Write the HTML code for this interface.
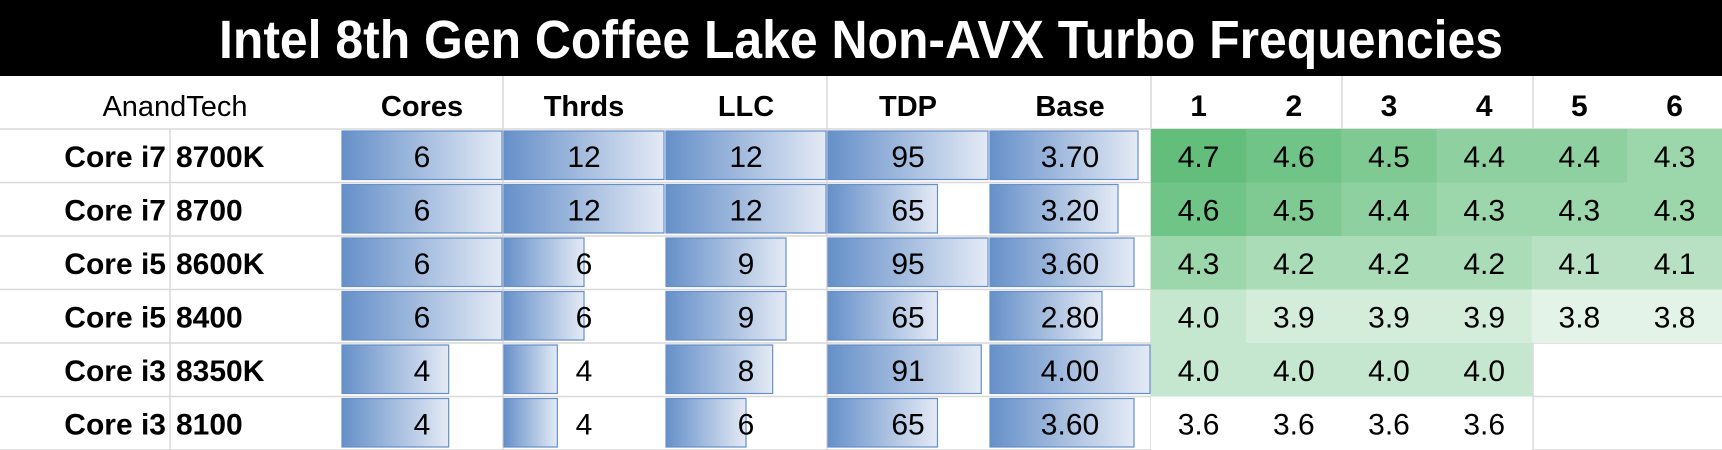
<!DOCTYPE html>
<html><head><meta charset="utf-8"><style>
html,body{margin:0;padding:0;background:#fff;}
svg{display:block;font-family:"Liberation Sans",sans-serif;}
</style></head><body>
<svg id="chart" width="1722" height="450" viewBox="0 0 1722 450" xmlns="http://www.w3.org/2000/svg">
<defs>
<linearGradient id="bg" x1="0" x2="1" y1="0" y2="0">
<stop offset="0" stop-color="#6690c9"/><stop offset="1" stop-color="#e4eaf5"/>
</linearGradient>
</defs>
<rect x="0" y="0" width="1722" height="76" fill="#000"/>
<text x="861" y="58" text-anchor="middle" fill="#fff" font-size="54" font-weight="bold" textLength="1284" lengthAdjust="spacingAndGlyphs">Intel 8th Gen Coffee Lake Non-AVX Turbo Frequencies</text>
<g id="grid"></g>
<g id="cells"></g>
</svg>
<script>
const cpuFamily = ["Core i7","Core i7","Core i5","Core i5","Core i3","Core i3"];
const cpuModel = ["8700K","8700","8600K","8400","8350K","8100"];
const cores = [6,6,6,6,4,4];
const threads = [12,12,6,6,4,4];
const llc = [12,12,9,9,8,6];
const tdp = [95,65,95,65,91,65];
const base = ["3.70","3.20","3.60","2.80","4.00","3.60"];
const turboHeaders = ["1","2","3","4","5","6"];
const turbo = [
 [4.7,4.6,4.5,4.4,4.4,4.3],
 [4.6,4.5,4.4,4.3,4.3,4.3],
 [4.3,4.2,4.2,4.2,4.1,4.1],
 [4.0,3.9,3.9,3.9,3.8,3.8],
 [4.0,4.0,4.0,4.0,null,null],
 [3.6,3.6,3.6,3.6,null,null]
];
const barHeaders = ["Cores","Thrds","LLC","TDP","Base"];

const svg = document.getElementById('chart');
const grid = document.getElementById('grid');
const cells = document.getElementById('cells');
const NS = "http://www.w3.org/2000/svg";
function mk(tag, attrs, parent, text){
  const e = document.createElementNS(NS, tag);
  for (const k in attrs) e.setAttribute(k, attrs[k]);
  if (text !== undefined) e.textContent = text;
  parent.appendChild(e);
  return e;
}
const headerTop = 76, rowTop = 129, rowH = 53.5;
const rowY = i => rowTop + i*rowH;
const barX = [342, 504, 666, 828, 990];
const barW = 160;
const turboX0 = 1151, turboW = 95.2;
const turboX = j => turboX0 + j*turboW;

// gridlines
for (let i=0;i<=6;i++){
  const l = mk('line',{x1:0,x2:1722,y1:rowY(i),y2:rowY(i),stroke:'#d9d9d9','stroke-width':1.5},grid);
  
  
}
[[170,rowTop,450],[503,headerTop,450],[827,headerTop,450],[1151,headerTop,450],[1342,headerTop,rowTop],[1533,headerTop,450]].forEach(v=>{
  const l = mk('line',{x1:v[0],x2:v[0],y1:v[1],y2:v[2],stroke:'#d9d9d9','stroke-width':1.5},grid);
  
  
});

// headers
let t = mk('text',{x:175,y:116,'text-anchor':'middle','font-size':29,fill:'#000'},cells,'AnandTech');


barHeaders.forEach((h,k)=>{
  const e = mk('text',{x:barX[k]+barW/2,y:116,'text-anchor':'middle','font-size':29,'font-weight':'bold'},cells,h);
  
  
});
turboHeaders.forEach((h,j)=>{
  const e = mk('text',{x:turboX(j)+turboW/2,y:116,'text-anchor':'middle','font-size':30,'font-weight':'bold'},cells,h);
  
  
});

// colour scale
function green(v){
  const tt = Math.max(0, Math.min(1,(v-3.6)/(4.7-3.6)));
  const c0=[255,255,255], c1=[99,190,123];
  return 'rgb('+c0.map((c,i)=>Math.round(c+(c1[i]-c)*tt)).join(',')+')';
}

const barCols = [cores, threads, llc, tdp, base.map(Number)];
const barLabels = [cores, threads, llc, tdp, base];
for (let i=0;i<6;i++){
  const y = rowY(i);
  const cy = y + rowH/2 + 11;
  let a = mk('text',{x:166,y:cy,'text-anchor':'end','font-size':30,'font-weight':'bold'},cells,cpuFamily[i]);
  
  
  let b = mk('text',{x:176,y:cy,'font-size':30,'font-weight':'bold'},cells,cpuModel[i]);
  
  
  barCols.forEach((col,k)=>{
    const mx = Math.max(...col);
    const w = (col[i]/mx)*barW;
    const r = mk('rect',{x:barX[k],y:y+2,width:w,height:rowH-5,fill:'url(#bg)',stroke:'#6690c9','stroke-width':1.2},cells);
    
    
    const tx = mk('text',{x:barX[k]+barW/2,y:cy,'text-anchor':'middle','font-size':30},cells,String(barLabels[k][i]));
    
    
  });
  turbo[i].forEach((v,j)=>{
    if (v===null) return;
    const r = mk('rect',{x:turboX(j),y:y,width:turboW+0.5,height:rowH,fill:green(v)},cells);
    
    
    const tx = mk('text',{x:turboX(j)+turboW/2,y:cy,'text-anchor':'middle','font-size':30},cells,v.toFixed(1));
    
    
  });
}
</script>
</body></html>
